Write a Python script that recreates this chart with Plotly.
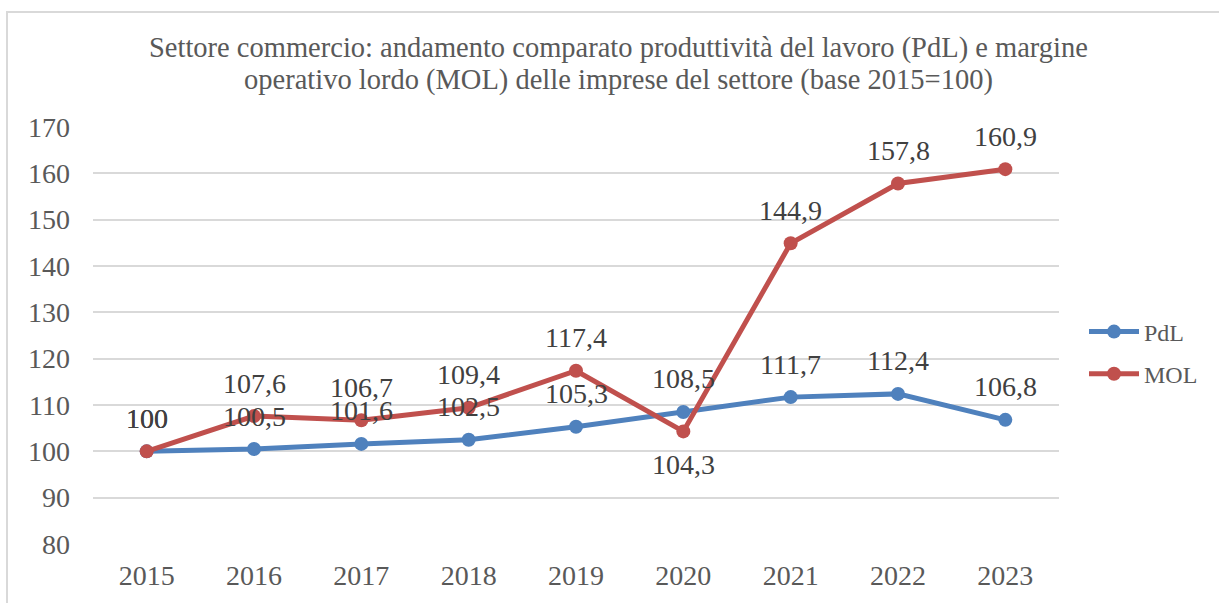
import plotly.graph_objects as go

years = ["2015", "2016", "2017", "2018", "2019", "2020", "2021", "2022", "2023"]
pdl = [100, 100.5, 101.6, 102.5, 105.3, 108.5, 111.7, 112.4, 106.8]
mol = [100, 107.6, 106.7, 109.4, 117.4, 104.3, 144.9, 157.8, 160.9]
# label side for each MOL point (1 = above, -1 = below)
mol_side = [1, 1, 1, 1, 1, -1, 1, 1, 1]

title_lines = ["Settore commercio: andamento comparato produttività del lavoro (PdL) e margine",
               "operativo lordo (MOL) delle imprese del settore (base 2015=100)"]

FONT = "Liberation Serif, serif"
GREY = "#595959"
BLUE = "#4F81BD"
RED = "#C0504D"

W, H = 1219, 603
L, R, T, B = 93, 160, 127, 59
PW, PH = W - L - R, H - T - B


def fmt(v):
    s = f"{v:g}"
    return s.replace(".", ",")


fig = go.Figure()
fig.add_trace(go.Scatter(x=years, y=pdl, name="PdL", mode="lines+markers",
                         legendgroup="a",
                         line=dict(color=BLUE, width=5),
                         marker=dict(size=14, color=BLUE)))
fig.add_trace(go.Scatter(x=years, y=mol, name="MOL", mode="lines+markers",
                         legendgroup="b",
                         line=dict(color=RED, width=5),
                         marker=dict(size=14, color=RED)))

# data labels (x given as category index)
for i, v in enumerate(pdl):
    fig.add_annotation(x=i, y=v, text=fmt(v), showarrow=False, yshift=33,
                       font=dict(family=FONT, size=28, color="#404040"))
for i, (v, s) in enumerate(zip(mol, mol_side)):
    fig.add_annotation(x=i, y=v, text=fmt(v), showarrow=False, yshift=33 * s,
                       font=dict(family=FONT, size=28, color="#404040"))

# chart title, one annotation per line
for k, line in enumerate(title_lines):
    fig.add_annotation(xref="paper", yref="paper", x=(618 - L) / PW,
                       y=(H - B - 48 - 32 * k) / PH,
                       xanchor="center", yanchor="middle", text=line, showarrow=False,
                       font=dict(family=FONT, size=28.5, color=GREY))

fig.update_layout(
    width=W, height=H,
    paper_bgcolor="white", plot_bgcolor="white",
    margin=dict(l=L, r=R, t=T, b=B),
    font=dict(family=FONT, color=GREY),
    xaxis=dict(type="category", range=[-0.5, 8.5], showgrid=False, showline=False,
               zeroline=False, ticks="", ticklabelstandoff=12,
               tickfont=dict(family=FONT, size=28, color=GREY)),
    yaxis=dict(range=[80, 170], dtick=10, showgrid=True, gridcolor="#D9D9D9",
               gridwidth=2, zeroline=False, showline=False, ticks="",
               ticklabelstandoff=22,
               tickfont=dict(family=FONT, size=28, color=GREY)),
    legend=dict(x=(1084 - L) / PW, xanchor="left", y=(H - B - 353) / PH, yanchor="middle",
                bgcolor="rgba(0,0,0,0)", traceorder="grouped", tracegroupgap=8,
                font=dict(family=FONT, size=24, color=GREY),
                itemwidth=50),
    showlegend=True,
)

# light chart frame as in the source
fig.add_shape(type="rect", xref="paper", yref="paper",
              x0=(7 - L) / PW, x1=1.2, y0=-0.2, y1=(H - B - 12) / PH,
              line=dict(color="#D9D9D9", width=2), layer="below")

# drop the default 8px page margin so the figure fills the window exactly
fig.write_html("out.html", config={"displayModeBar": False},
               post_script="document.body.style.margin='0px';")
